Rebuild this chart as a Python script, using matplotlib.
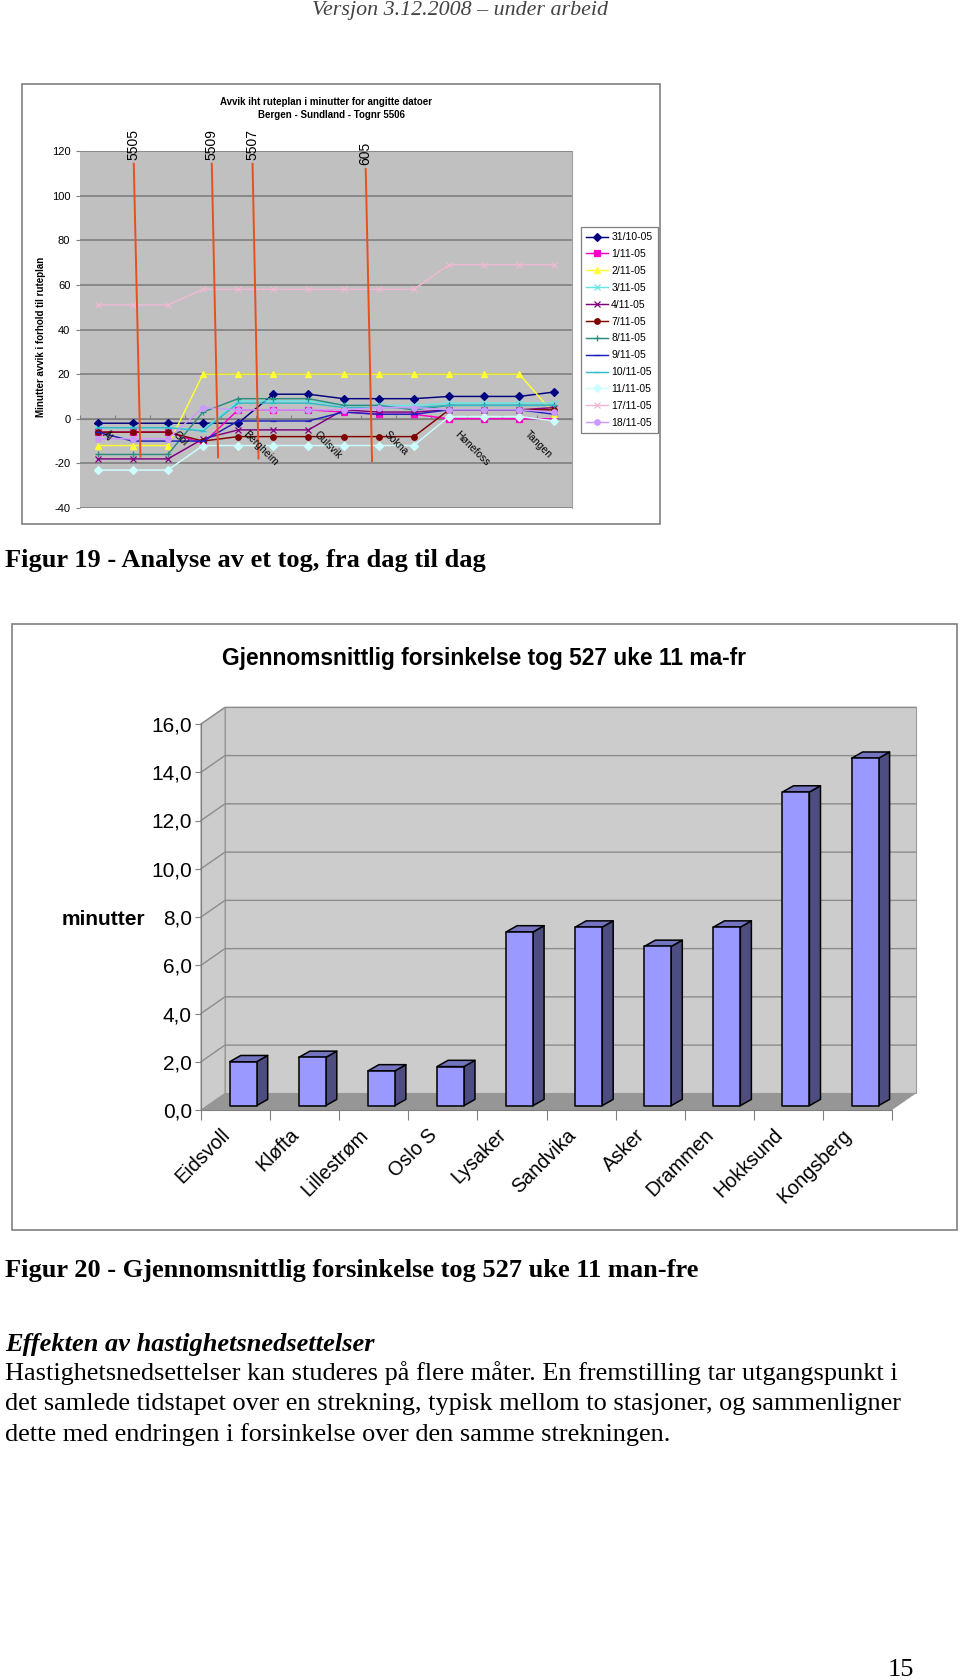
import numpy as np
import matplotlib
matplotlib.use("Agg")
import matplotlib.pyplot as plt
from matplotlib.patches import Polygon, Rectangle

W, H = 960, 1680

# Data
stops = ["Ål", "Gol", "Bergheim", "Gulsvik", "Sokna", "Hønefoss", "Tangen"]
dates = ["31/10-05", "1/11-05", "2/11-05", "3/11-05", "4/11-05", "7/11-05",
         "8/11-05", "9/11-05", "10/11-05", "11/11-05", "17/11-05", "18/11-05"]
d_3110 = [-2, -2, -2, -2, -2, 11, 11, 9, 9, 9, 10, 10, 10, 12]
d_0111 = [-6, -6, -6, -11, 4, 4, 4, 3, 2, 2, 0, 0, 0, 0]
d_0211 = [-12, -12, -12, 20, 20, 20, 20, 20, 20, 20, 20, 20, 20, 2]
d_0311 = [-4, -4, -4, -5, 8, 8, 8, 6, 6, 6, 7, 7, 7, 7]
d_0411 = [-18, -18, -18, -9, -5, -5, -5, 4, 3, 3, 4, 4, 4, 5]
d_0711 = [-6, -6, -6, -10, -8, -8, -8, -8, -8, -8, 4, 4, 4, 4]
d_0811 = [-16, -16, -16, 3, 9, 9, 9, 6, 6, 4, 6, 6, 6, 6]
d_0911 = [-6, -10, -10, -10, -1, -1, -1, 3, 2, 2, 4, 4, 4, 2]
d_1011 = [-4, -4, -4, -5.5, 7, 7, 7, 5, 5, 5, 6, 6, 6, 6]
d_1111 = [-23, -23, -23, -12, -12, -12, -12, -12, -12, -12, 1, 1, 1, -1]
d_1711 = [51, 51, 51, 58, 58, 58, 58, 58, 58, 58, 69, 69, 69, 69]
d_1811 = [-9, -9, -9, 5, 4, 4, 4, 4, 5, 5, 4, 4, 4, 3]
all_days = [d_3110, d_0111, d_0211, d_0311, d_0411, d_0711,
            d_0811, d_0911, d_1011, d_1111, d_1711, d_1811]
day_colors = ["#000080", "#FF00CC", "#FFFF33", "#66E6E6", "#800080", "#800000",
              "#2E8B80", "#2020C0", "#33BBCC", "#CCFFFF", "#F0B8D4", "#CC99FF"]
day_markers = ["D", "s", "^", "x", "x", "o", "+", "_", "_", "D", "x", "o"]

trains = ["5505", "5509", "5507", "605"]
train_x = [(1.03, 1.22), (3.25, 3.43), (4.41, 4.58), (7.63, 7.81)]
train_y = [(114.3, -17), (114.3, -17.3), (114.3, -17.8), (112, -19)]

places = ["Eidsvoll", "Kløfta", "Lillestrøm", "Oslo S", "Lysaker",
          "Sandvika", "Asker", "Drammen", "Hokksund", "Kongsberg"]
delay = [1.82, 2.0, 1.44, 1.62, 7.2, 7.4, 6.6, 7.4, 13.0, 14.4]


def fig_axes(x0, y0, x1, y1):
    # pixel box, top-left origin
    return fig.add_axes([x0 / W, 1 - y1 / H, (x1 - x0) / W, (y1 - y0) / H])


def page_text(x, y, s, **kw):
    fig.text(x / W, 1 - y / H, s, va="center", family="Liberation Serif", **kw)


plt.rcParams["font.family"] = ["Liberation Sans", "DejaVu Sans"]
plt.rcParams["axes.unicode_minus"] = False
fig = plt.figure(figsize=(W / 100, H / 100), dpi=100, facecolor="white")

# frames, behind the axes
for x0, y0, x1, y1 in [(22, 84, 660, 524), (12, 624, 957, 1230)]:
    fig.add_artist(Rectangle((x0 / W, 1 - y1 / H), (x1 - x0) / W, (y1 - y0) / H, zorder=-1,
                             transform=fig.transFigure, fc="white", ec="#808080", lw=1.2))

# --- Figur 19, line chart
ax = fig_axes(80, 151, 572, 508)
ax.set_facecolor("#C0C0C0")
for i, vals in enumerate(all_days):
    ax.plot(range(14), vals, color=day_colors[i], marker=day_markers[i], ms=4,
            mew=0.9, lw=1.05, label=dates[i], zorder=3 + i * 0.01)
ax.set_xlim(-0.5, 13.5)
ax.set_ylim(-40, 120)
ax.set_yticks(range(-40, 121, 20))
ax.tick_params(axis="y", labelsize=8, length=3, color="#808080", pad=4)
ax.grid(axis="y", color="#808080", lw=1.2)
ax.set_axisbelow(True)
for s in ["top", "left"]:
    ax.spines[s].set_visible(False)
ax.spines["right"].set_color("#A0A0A0")
ax.spines["bottom"].set_position(("data", 0))
ax.spines["bottom"].set_color("#808080")
ax.set_xticks(np.arange(-0.5, 14, 1))
ax.set_xticklabels([])
ax.tick_params(axis="x", direction="in", length=3, color="#808080")
for i, s in enumerate(stops):
    ax.annotate(s, (i * 2 + 0.1, 0), xytext=(5, -7.5), textcoords="offset points",
                rotation=-45, rotation_mode="anchor", ha="left", va="top",
                fontsize=7.5, zorder=7)
for i, t in enumerate(trains):
    ax.plot(train_x[i], train_y[i], color="#E8501E", lw=1.4, zorder=6, clip_on=False)
    ax.annotate(t, (train_x[i][0], train_y[i][0]), xytext=(0, 3), textcoords="offset points",
                rotation=90, ha="center", va="bottom", fontsize=10, annotation_clip=False)
fig.text(41 / W, 1 - 337 / H, "Minutter avvik i forhold til ruteplan", rotation=90,
         ha="center", va="center", fontsize=7, fontweight="bold")
fig.text(326 / W, 1 - 102 / H, "Avvik iht ruteplan i minutter for angitte datoer",
         ha="center", va="center", fontsize=7.05, fontweight="bold")
fig.text(331 / W, 1 - 115 / H, "Bergen - Sundland - Tognr 5506",
         ha="center", va="center", fontsize=7.05, fontweight="bold")
leg = ax.legend(loc="upper left", bbox_to_anchor=(581 / W, 1 - 227 / H), bbox_transform=fig.transFigure,
                fontsize=7.5, fancybox=False, framealpha=1, edgecolor="#808080", labelspacing=0.66,
                handlelength=2.1, handletextpad=0.3, borderpad=0.5, borderaxespad=0)
leg.get_frame().set_linewidth(0.9)

# --- Figur 20, bars with 3D look
ax2 = fig_axes(201, 724, 892, 1110)
ax2.set_xlim(0, 10)
ax2.set_ylim(0, 16)
ax2.set_facecolor("none")
dx, dy = 0.347, 0.69        # depth of the chart box
bw, off = 0.39, 0.11        # bar width, shift to the back
bdx, bdy, base = 0.16, 0.26, 0.18   # bar depth, bar base
wall = dict(clip_on=False, lw=0.8, ec="#9A9A9A", zorder=1)
ax2.add_patch(Polygon([(dx, dy), (10 + dx, dy), (10 + dx, 16 + dy), (dx, 16 + dy)], fc="#CCCCCC", **wall))
ax2.add_patch(Polygon([(0, 0), (dx, dy), (dx, 16 + dy), (0, 16)], fc="#CCCCCC", **wall))
ax2.add_patch(Polygon([(0, 0), (10, 0), (10 + dx, dy), (dx, dy)], fc="#969696", clip_on=False, lw=0, zorder=1.5))
for v in range(2, 17, 2):
    ax2.plot([0, dx, 10 + dx], [v, v + dy, v + dy], color="#8C8C8C", lw=1, clip_on=False, zorder=1.2)
for i, v in enumerate(delay):
    x0 = i + 0.5 + off - bw / 2
    x1 = x0 + bw
    edge = dict(ec="black", lw=1.1, clip_on=False, zorder=3, joinstyle="round")
    ax2.add_patch(Polygon([(x1, base), (x1 + bdx, base + bdy), (x1 + bdx, base + v + bdy), (x1, base + v)],
                          fc="#4D4D80", **edge))
    ax2.add_patch(Polygon([(x0, base + v), (x1, base + v), (x1 + bdx, base + v + bdy), (x0 + bdx, base + v + bdy)],
                          fc="#7373BF", **edge))
    ax2.add_patch(Rectangle((x0, base), bw, v, fc="#9999FF", **edge))
for s in ["top", "right"]:
    ax2.spines[s].set_visible(False)
for s in ["left", "bottom"]:
    ax2.spines[s].set_color("#808080")
    ax2.spines[s].set_zorder(2)
ax2.set_yticks(range(0, 17, 2))
ax2.set_yticklabels([f"{v},0" for v in range(0, 17, 2)], fontsize=15)
ax2.tick_params(axis="y", length=4.5, color="#808080", pad=2)
ax2.set_xticks(range(11))
ax2.set_xticklabels([])
ax2.tick_params(axis="x", length=7, color="#808080")
for i, p in enumerate(places):
    ax2.annotate(p, (i + 0.5, 0), xytext=(-11, -11), textcoords="offset points", rotation=45,
                 rotation_mode="anchor", ha="right", va="top", fontsize=14.2)
fig.text(103 / W, 1 - 919 / H, "minutter", ha="center", va="center", fontsize=15, fontweight="bold")
fig.text(484 / W, 1 - 659 / H, "Gjennomsnittlig forsinkelse tog 527 uke 11 ma-fr",
         ha="center", va="center", fontsize=16.4, fontweight="bold")

# --- page text
page_text(460, 10, "Versjon 3.12.2008 – under arbeid", ha="center", fontsize=15.8, style="italic", color="#444444")
page_text(5, 561, "Figur 19 - Analyse av et tog, fra dag til dag", fontsize=19, fontweight="bold")
page_text(5, 1270, "Figur 20 - Gjennomsnittlig forsinkelse tog 527 uke 11 man-fre", fontsize=19, fontweight="bold")
page_text(5, 1344, "Effekten av hastighetsnedsettelser", fontsize=19, fontweight="bold", style="italic")
page_text(5, 1373, "Hastighetsnedsettelser kan studeres på flere måter. En fremstilling tar utgangspunkt i", fontsize=18.9)
page_text(5, 1404, "det samlede tidstapet over en strekning, typisk mellom to stasjoner, og sammenligner", fontsize=18.9)
page_text(5, 1435, "dette med endringen i forsinkelse over den samme strekningen.", fontsize=18.9)
page_text(888, 1670, "15", fontsize=19)

fig.savefig("out.png", dpi=100)
